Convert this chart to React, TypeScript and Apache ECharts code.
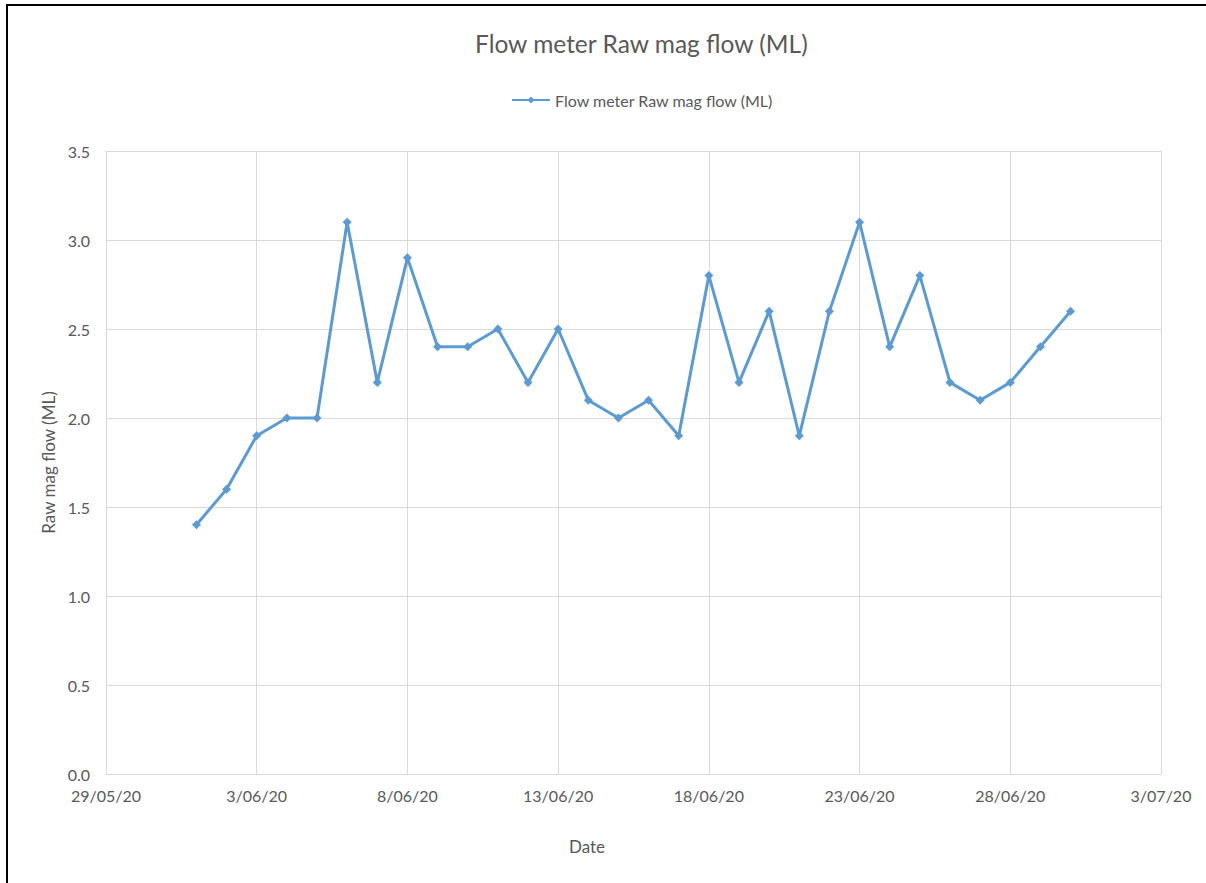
import React, { useEffect, useRef } from "react";
import * as echarts from "echarts";

const dates = [
  "1/06/20", "2/06/20", "3/06/20", "4/06/20", "5/06/20", "6/06/20", "7/06/20", "8/06/20",
  "9/06/20", "10/06/20", "11/06/20", "12/06/20", "13/06/20", "14/06/20", "15/06/20", "16/06/20",
  "17/06/20", "18/06/20", "19/06/20", "20/06/20", "21/06/20", "22/06/20", "23/06/20", "24/06/20",
  "25/06/20", "26/06/20", "27/06/20", "28/06/20", "29/06/20", "30/06/20",
];
const flow = [
  1.4, 1.6, 1.9, 2.0, 2.0, 3.1, 2.2, 2.9,
  2.4, 2.4, 2.5, 2.2, 2.5, 2.1, 2.0, 2.1,
  1.9, 2.8, 2.2, 2.6, 1.9, 2.6, 3.1, 2.4,
  2.8, 2.2, 2.1, 2.2, 2.4, 2.6,
];
const xStart = "29/05/20";
const xEnd = "3/07/20";
const xTickDays = 5;
const yMin = 0;
const yMax = 3.5;
const yStep = 0.5;

const titleText = "Flow meter Raw mag flow (ML)";
const seriesName = "Flow meter Raw mag flow (ML)";
const yName = "Raw mag flow (ML)";
const xName = "Date";

const DAY = 86400000;
function parseDate(s: string): number {
  const [d, m, y] = s.split("/").map(Number);
  return Date.UTC(2000 + y, m - 1, d);
}
const t0 = parseDate(xStart);
const dayOffset = (s: string) => Math.round((parseDate(s) - t0) / DAY);
function fmtDay(v: number): string {
  const dt = new Date(t0 + v * DAY);
  return `${dt.getUTCDate()}/${String(dt.getUTCMonth() + 1).padStart(2, "0")}/${dt.getUTCFullYear() % 100}`;
}

const FONT = "Lato, 'Open Sans', sans-serif";
const TXT = "#595959";
const GRID = "#d9d9d9";
const LINE = "#5b9bd5";

export default function App() {
  const ref = useRef<HTMLDivElement>(null);
  useEffect(() => {
    document.body.style.margin = "0";
    if (!ref.current) return;
    const chart = echarts.init(ref.current, undefined, { renderer: "svg" });
    chart.setOption({
      animation: false,
      backgroundColor: "#ffffff",
      textStyle: { fontFamily: FONT },
      title: {
        text: titleText,
        left: 470,
        top: 26,
        textStyle: { fontFamily: FONT, fontSize: 24.5, fontWeight: "normal", color: TXT },
      },
      legend: {
        top: 87,
        left: 506,
        itemWidth: 38,
        itemHeight: 9,
        itemGap: 8,
        textStyle: { fontFamily: FONT, fontSize: 16, color: TXT },
        data: [seriesName],
      },
      grid: { left: 106, right: 45, top: 151, bottom: 109, containLabel: false },
      xAxis: {
        type: "value",
        min: 0,
        max: dayOffset(xEnd),
        interval: xTickDays,
        axisLine: { show: true, lineStyle: { color: GRID, width: 1 } },
        axisTick: { show: false },
        splitLine: { show: true, lineStyle: { color: GRID, width: 1 } },
        axisLabel: {
          color: TXT,
          fontFamily: FONT,
          fontSize: 16,
          margin: 13,
          formatter: (v: number) => fmtDay(v),
        },
      },
      yAxis: {
        type: "value",
        min: yMin,
        max: yMax,
        interval: yStep,
        name: yName,
        nameLocation: "middle",
        nameGap: 40,
        nameRotate: 90,
        nameTextStyle: { color: TXT, fontFamily: FONT, fontSize: 17 },
        axisLine: { show: false },
        axisTick: { show: false },
        splitLine: { show: true, lineStyle: { color: GRID, width: 1 } },
        axisLabel: {
          color: TXT,
          fontFamily: FONT,
          fontSize: 16,
          margin: 16,
          formatter: (v: number) => v.toFixed(1),
        },
      },
      graphic: [
        {
          type: "text",
          x: 587,
          y: 846,
          style: {
            text: xName,
            fill: TXT,
            font: `17px ${FONT}`,
            textAlign: "center",
            textVerticalAlign: "middle",
          },
        },
      ],
      series: [
        {
          name: seriesName,
          type: "line",
          data: dates.map((d, i) => [dayOffset(d), flow[i]]),
          symbol: "diamond",
          symbolSize: 9,
          showAllSymbol: true,
          lineStyle: { color: LINE, width: 3 },
          itemStyle: { color: LINE },
        },
      ],
    });
    return () => chart.dispose();
  }, []);
  return (
    <div style={{ position: "absolute", left: 0, top: 0, width: 1206, height: 883, overflow: "hidden", background: "#fff" }}>
      <div ref={ref} style={{ position: "absolute", left: 0, top: 0, width: 1206, height: 883 }} />
      <div
        style={{
          position: "absolute",
          left: 6,
          top: 4,
          width: 1300,
          height: 1000,
          borderLeft: "2px solid #000",
          borderTop: "2px solid #000",
          pointerEvents: "none",
        }}
      />
    </div>
  );
}
